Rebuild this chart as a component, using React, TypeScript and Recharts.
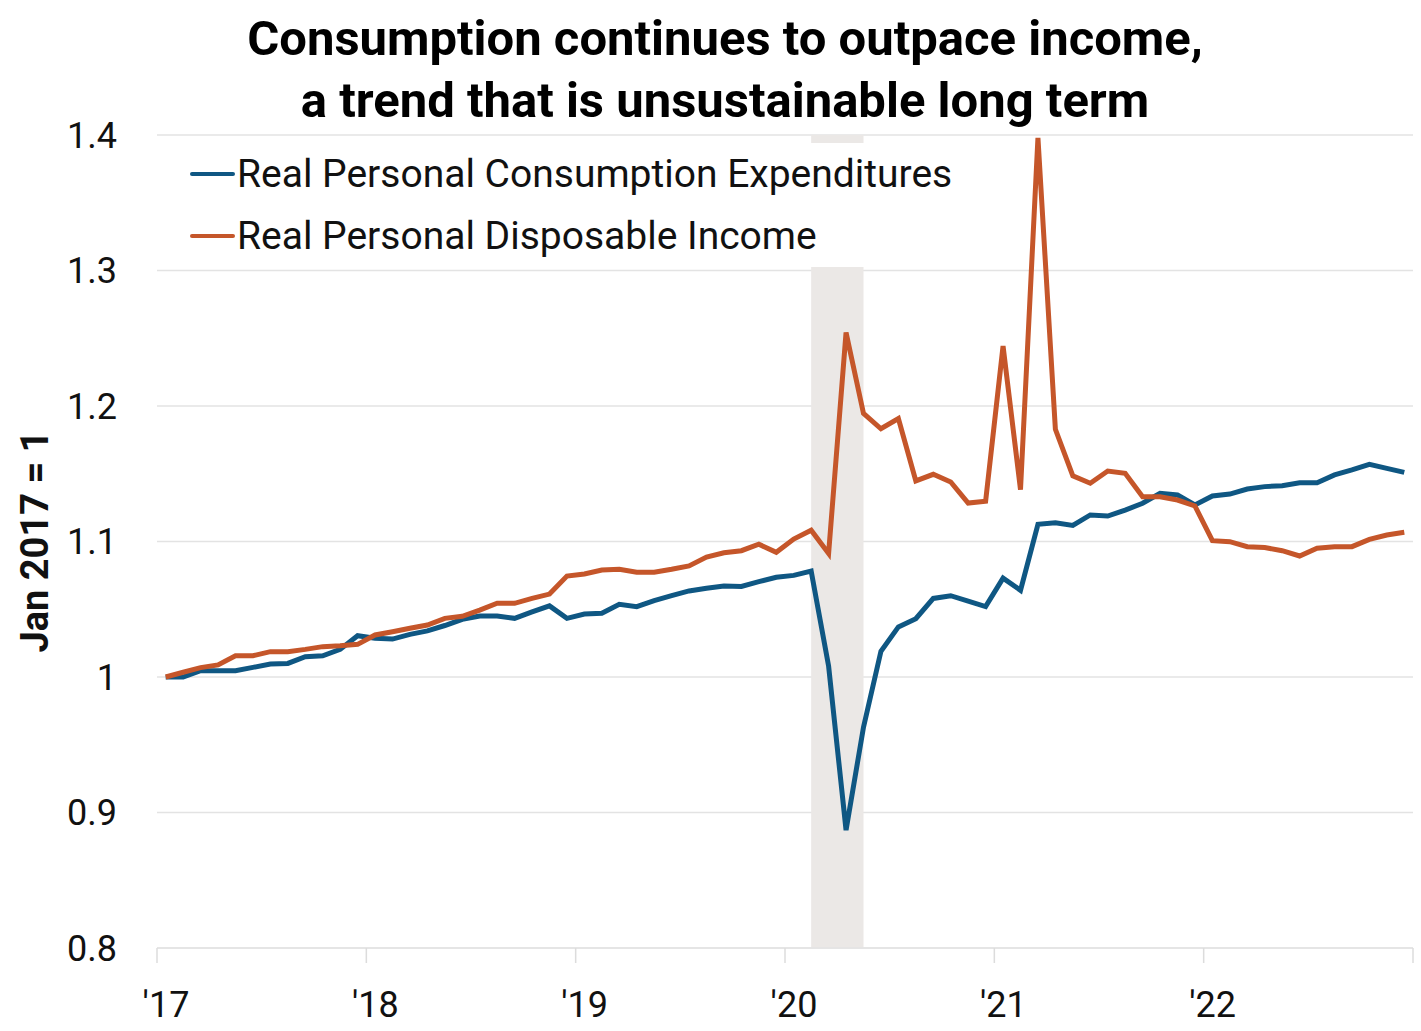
import {
  CartesianGrid,
  Legend,
  Line,
  LineChart,
  ReferenceArea,
  XAxis,
  YAxis,
} from "recharts";

// monthly, Jan 2017 .. Dec 2022, indexed to Jan 2017 = 1
const PCE = [
  1.0, 1.0, 1.0047, 1.0047, 1.0047, 1.0071, 1.0096, 1.01, 1.015, 1.0157, 1.0204, 1.0305,
  1.0286, 1.028, 1.0315, 1.034, 1.038, 1.0426, 1.045, 1.045, 1.0433, 1.048, 1.0525, 1.0433,
  1.0465, 1.047, 1.0536, 1.0519, 1.0563, 1.06, 1.0635, 1.0655, 1.0672, 1.0668, 1.0704, 1.0736,
  1.075, 1.0782, 1.008, 0.887, 0.963, 1.019, 1.037, 1.043, 1.058, 1.06, 1.056, 1.052,
  1.073, 1.064, 1.1127, 1.1138, 1.1118, 1.1196, 1.1188, 1.1232, 1.1282, 1.1356, 1.1343, 1.127,
  1.1336, 1.135, 1.1387, 1.1405, 1.1412, 1.1434, 1.1434, 1.1491, 1.1528, 1.157, 1.154, 1.151,
];
const DPI = [
  1.0, 1.0035, 1.0069, 1.0089, 1.0157, 1.0157, 1.0187, 1.0187, 1.0204, 1.0224, 1.0231, 1.0241,
  1.031, 1.0334, 1.036, 1.0384, 1.0433, 1.0448, 1.0494, 1.0544, 1.0544, 1.058, 1.0612, 1.0745,
  1.076, 1.079, 1.0795, 1.0773, 1.0773, 1.0795, 1.082, 1.0885, 1.0917, 1.0932, 1.098, 1.092,
  1.1018, 1.1083, 1.0912, 1.2542, 1.1945, 1.1832, 1.1907, 1.1447, 1.1496, 1.1439, 1.1284, 1.1297,
  1.2442, 1.1383, 1.3978, 1.1828, 1.1485, 1.143, 1.152, 1.1503, 1.133, 1.133, 1.1306, 1.1262,
  1.1006, 1.0999, 1.0962, 1.0955, 1.0932, 1.0893, 1.095, 1.0962, 1.0962, 1.1016, 1.1048, 1.1068,
];
const YEAR_TICKS = [0, 12, 24, 36, 48, 60, 72];
const YEAR_LABELS = ["'17", "'18", "'19", "'20", "'21", "'22", ""];
const Y_TICKS = [0.8, 0.9, 1, 1.1, 1.2, 1.3, 1.4];
// recession shading, in months since Jan 2017
const RECESSION = [37.5, 40.5];

const BLUE = "#0f5783";
const ORANGE = "#c5562a";
const FONT = "Roboto, sans-serif";

// points sit mid-month
const data = PCE.map((v, i) => ({ t: i + 0.5, pce: v, dpi: DPI[i] }));

function XTick({ x, y, payload }: any) {
  const idx = YEAR_TICKS.indexOf(payload.value);
  return (
    <text x={x + 9} y={y + 52} textAnchor="middle" fontSize={36} fontFamily={FONT} fill="#111">
      {YEAR_LABELS[idx]}
    </text>
  );
}

function YTitle({ viewBox }: any) {
  const cx = viewBox.x + 35;
  const cy = viewBox.y + viewBox.height / 2;
  return (
    <text
      x={cx}
      y={cy}
      transform={`rotate(-90 ${cx} ${cy})`}
      textAnchor="middle"
      dominantBaseline="central"
      fontSize={38}
      fontWeight={700}
      fontFamily={FONT}
      fill="#111"
    >
      Jan 2017 = 1
    </text>
  );
}

function LegendBox({ payload }: any) {
  return (
    <div style={{ background: "#fff", height: 124, width: 790 }}>
      {(payload || []).map((p: any) => (
        <div
          key={p.value}
          style={{ display: "flex", alignItems: "center", height: 62, fontFamily: FONT, fontSize: 39, color: "#111" }}
        >
          <span style={{ display: "inline-block", width: 45, height: 4.5, background: p.color, borderRadius: 2, marginRight: 2 }} />
          <span>{p.value}</span>
        </div>
      ))}
    </div>
  );
}

export default function App() {
  return (
    <div style={{ position: "absolute", left: 0, top: 0, width: 1421, height: 1031, background: "#fff" }}>
      <div
        style={{
          position: "absolute",
          top: 8,
          left: 0,
          width: 1450,
          textAlign: "center",
          fontFamily: FONT,
          fontWeight: 700,
          fontSize: 49,
          lineHeight: "62px",
          color: "#000",
        }}
      >
        Consumption continues to outpace income,
        <br />
        a trend that is unsustainable long term
      </div>
      <LineChart width={1421} height={1031} data={data} margin={{ top: 135, right: 8, bottom: 0, left: 0 }}>
        <CartesianGrid vertical={false} stroke="#e3e3e3" strokeWidth={1.5} />
        <XAxis
          type="number"
          dataKey="t"
          domain={[0, 72]}
          ticks={YEAR_TICKS}
          tick={<XTick />}
          tickSize={15}
          tickLine={{ stroke: "#dcdcdc", strokeWidth: 1.5 }}
          axisLine={{ stroke: "#e3e3e3", strokeWidth: 1.5 }}
          interval={0}
          height={83}
        />
        <YAxis
          type="number"
          domain={[0.8, 1.4]}
          ticks={Y_TICKS}
          width={157}
          tickSize={0}
          tickMargin={40}
          axisLine={false}
          tickLine={false}
          tickFormatter={(v: number) => (v === 1 ? "1" : v.toFixed(1))}
          tick={{ fontSize: 36, fontFamily: FONT, fill: "#111" }}
          label={<YTitle />}
        />
        <ReferenceArea x1={RECESSION[0]} x2={RECESSION[1]} fill="#ebe8e6" fillOpacity={1} stroke="none" />
        <Line
          type="linear"
          dataKey="pce"
          name="Real Personal Consumption Expenditures"
          stroke={BLUE}
          strokeWidth={5}
          dot={false}
          isAnimationActive={false}
        />
        <Line
          type="linear"
          dataKey="dpi"
          name="Real Personal Disposable Income"
          stroke={ORANGE}
          strokeWidth={5}
          dot={false}
          isAnimationActive={false}
        />
        <Legend
          layout="vertical"
          align="center"
          verticalAlign="middle"
          content={<LegendBox />}
          wrapperStyle={{ top: 143, left: 190, width: 790, height: 124 }}
        />
      </LineChart>
    </div>
  );
}
